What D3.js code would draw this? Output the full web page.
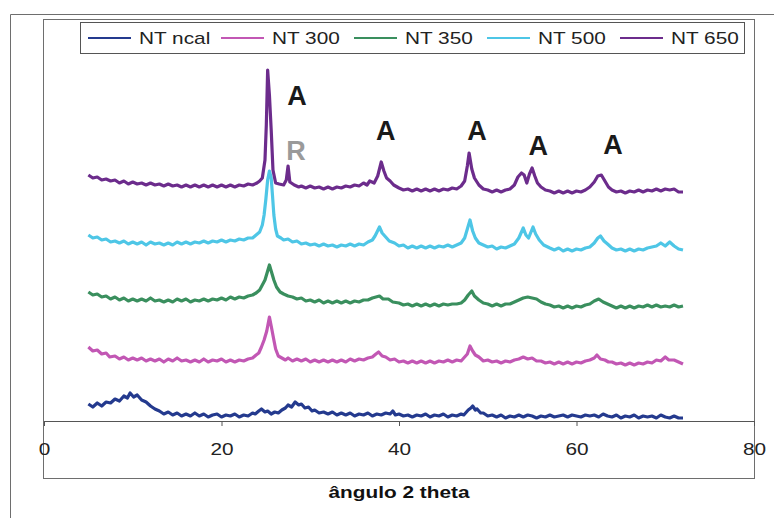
<!DOCTYPE html>
<html><head><meta charset="utf-8">
<script src="https://cdn.jsdelivr.net/npm/d3@7"></script>
<style>body{margin:0;background:#fff}svg{display:block}</style>
</head><body><svg id="c" width="774" height="518"></svg>
<script>
const seriesNames = ["NT ncal", "NT 300", "NT 350", "NT 500", "NT 650"];
const seriesColors = ["#243a8e", "#c257b4", "#3a8f5e", "#4ec6e6", "#6c2c8c"];

// [2θ angle, intensity] pairs
const ncalData = [[5,17],[5.5,14],[6,18],[6.5,15],[7,19],[7.5,18],[8,22],[8.5,20],[9,25],[9.4,23],[9.7,28],[10.1,24],[10.5,26],[11,21],[11.5,19],[12,15],[12.5,12],[13,10],[13.5,7],[14,9],[14.5,6],[15,8],[15.5,5],[16,7],[16.5,5],[17,8],[17.5,5],[18,7],[18.5,4],[19,6],[19.5,7],[20,4],[20.5,6],[21,5],[21.5,7],[22,4],[22.5,6],[23,5],[23.5,8],[23.8,7],[24.2,10],[24.5,12],[24.9,9],[25.2,10],[25.6,7],[26,9],[26.4,8],[26.8,11],[27.2,13],[27.5,16],[27.9,14],[28.3,19],[28.7,16],[29,17],[29.4,13],[29.8,14],[30.2,10],[30.5,11],[31,8],[31.5,9],[32,7],[32.5,9],[33,6],[33.5,8],[34,6],[34.5,8],[35,5],[35.5,7],[36,6],[36.5,8],[37,5],[37.5,7],[38,6],[38.5,8],[39,7],[39.3,10],[39.6,6],[40,7],[40.5,5],[41,6],[41.5,4],[42,6],[42.5,5],[43,7],[43.5,4],[44,6],[44.5,5],[45,7],[45.5,4],[46,6],[46.5,5],[47,7],[47.3,6],[47.8,11],[48.1,13],[48.3,15],[48.6,11],[48.8,12],[49.2,8],[49.5,8],[50,5],[50.5,6],[51,4],[51.5,6],[52,3],[52.5,5],[53,4],[53.5,6],[54,4],[54.5,6],[55,5],[55.5,3],[56,5],[56.5,4],[57,6],[57.5,4],[58,5],[58.5,6],[59,4],[59.5,6],[60,5],[60.5,4],[61,6],[61.5,5],[62,6],[62.5,4],[63,7],[63.5,5],[64,4],[64.5,6],[65,3],[65.5,5],[66,4],[66.5,6],[67,3],[67.5,5],[68,4],[68.5,5],[69,3],[69.5,6],[70,4],[70.5,3],[71,5],[71.5,3],[72,3]];

const nt300Data = [[5,74],[5.5,70],[6,71],[6.5,67],[7,68],[7.4,64],[8,65],[8.5,62],[9,64],[9.5,61],[10,63],[10.5,61],[11,63],[11.5,60],[12,62],[12.5,60],[13,62],[13.5,59],[14,62],[14.5,60],[15,63],[15.5,60],[16,61],[16.5,59],[17,61],[17.5,59],[18,62],[18.5,59],[19,61],[19.5,60],[20,62],[20.5,59],[21,61],[21.5,59],[22,61],[22.5,60],[23,62],[23.5,63],[23.9,66],[24.2,68],[24.5,74],[24.8,81],[25.1,90],[25.4,104],[25.6,95],[25.9,81],[26.1,72],[26.4,65],[26.8,63],[27.2,61],[27.5,63],[28,60],[28.5,62],[29,60],[29.5,62],[30,59],[30.5,61],[31,59],[31.5,61],[32,59],[32.5,61],[33,59],[33.5,61],[34,59],[34.5,62],[35,60],[35.5,62],[36,61],[36.5,63],[37,64],[37.4,67],[37.7,69],[38.1,65],[38.5,64],[39,61],[39.5,62],[40,59],[40.5,60],[41,58],[41.5,60],[42,58],[42.5,60],[43,58],[43.5,60],[44,58],[44.5,60],[45,59],[45.5,61],[46,59],[46.5,61],[47,60],[47.3,63],[47.7,67],[48,75],[48.3,70],[48.6,66],[49,64],[49.5,60],[50,61],[50.5,59],[51,60],[51.5,58],[52,60],[52.5,59],[53,61],[53.5,62],[54,64],[54.5,62],[55,63],[55.5,60],[56,60],[56.5,58],[57,59],[57.5,57],[58,59],[58.5,57],[59,59],[59.5,57],[60,59],[60.5,58],[61,60],[61.5,61],[62,63],[62.3,66],[62.7,62],[63.2,61],[63.6,59],[64,59],[64.5,57],[65,58],[65.5,56],[66,58],[66.5,56],[67,58],[67.5,57],[68,59],[68.5,58],[69,61],[69.5,60],[70,64],[70.4,61],[71,61],[71.5,59],[72,57]];

const nt350Data = [[5,129],[5.5,126],[6,127],[6.5,124],[7,125],[7.5,122],[8,124],[8.5,121],[9,123],[9.5,120],[10,122],[10.5,120],[11,122],[11.5,120],[12,123],[12.5,120],[13,121],[13.5,119],[14,121],[14.5,119],[15,122],[15.5,120],[16,122],[16.5,119],[17,121],[17.5,120],[18,122],[18.5,120],[19,122],[19.5,121],[20,123],[20.5,121],[21,124],[21.5,122],[22,124],[22.5,123],[23,125],[23.5,126],[23.9,128],[24.3,131],[24.6,136],[24.9,141],[25.2,150],[25.4,156],[25.6,150],[25.9,141],[26.2,134],[26.6,129],[27,127],[27.5,125],[28,124],[28.5,122],[29,123],[29.5,120],[30,121],[30.5,119],[31,121],[31.5,118],[32,120],[32.5,118],[33,120],[33.5,118],[34,120],[34.5,118],[35,120],[35.5,119],[36,121],[36.5,121],[37,123],[37.4,124],[37.8,125],[38.2,122],[38.8,122],[39.3,119],[40,118],[40.5,116],[41,117],[41.5,115],[42,117],[42.5,115],[43,117],[43.5,115],[44,117],[44.5,115],[45,117],[45.5,116],[46,117],[46.5,117],[47,118],[47.4,121],[47.8,126],[48.2,130],[48.5,125],[49,121],[49.5,118],[50,117],[50.5,115],[51,117],[51.5,115],[52,117],[52.5,117],[53,119],[53.5,121],[54,123],[54.5,124],[55,123],[55.5,122],[56,119],[56.5,117],[57,116],[57.5,114],[58,115],[58.5,113],[59,115],[59.5,113],[60,115],[60.5,114],[61,116],[61.5,117],[62,120],[62.5,122],[63,119],[63.5,117],[64,115],[64.5,113],[65,115],[65.5,113],[66,115],[66.5,113],[67,115],[67.5,114],[68,116],[68.5,114],[69,116],[69.5,114],[70,115],[70.5,114],[71,116],[71.5,114],[72,115]];

const nt500Data = [[5,186],[5.5,183],[6,184],[6.5,181],[7,182],[7.5,179],[8,180],[8.5,178],[9,180],[9.5,177],[10,179],[10.5,177],[11,179],[11.5,176],[12,179],[12.5,177],[13,178],[13.5,176],[14,178],[14.5,176],[15,179],[15.5,177],[16,179],[16.5,177],[17,179],[17.5,178],[18,180],[18.5,178],[19,180],[19.5,179],[20,181],[20.5,179],[21,181],[21.5,180],[22,182],[22.5,181],[23,183],[23.5,183],[23.9,186],[24.3,189],[24.6,196],[24.8,206],[25,222],[25.2,241],[25.4,250],[25.6,243],[25.75,225],[25.9,206],[26.1,192],[26.3,185],[26.7,183],[27,181],[27.5,182],[28,179],[28.5,180],[29,177],[29.5,178],[30,176],[30.5,177],[31,175],[31.5,177],[32,175],[32.5,176],[33,174],[33.5,176],[34,175],[34.5,177],[35,175],[35.5,177],[36,176],[36.5,179],[37,181],[37.3,185],[37.8,194],[38.1,188],[38.4,185],[38.9,180],[39.5,178],[40,175],[40.5,176],[41,173],[41.5,175],[42,173],[42.5,175],[43,173],[43.5,175],[44,173],[44.5,175],[45,174],[45.5,176],[46,174],[46.5,176],[47,178],[47.4,183],[47.7,192],[48,201],[48.3,190],[48.6,183],[49,178],[49.5,176],[50,174],[50.5,175],[51,172],[51.5,174],[52,173],[52.5,175],[53,177],[53.5,183],[54,193],[54.3,186],[54.6,183],[55.1,194],[55.4,187],[55.8,181],[56.3,176],[57,173],[57.5,171],[58,173],[58.5,170],[59,172],[59.5,170],[60,172],[60.5,171],[61,173],[61.5,174],[62,178],[62.4,183],[62.7,185],[63.1,180],[63.5,177],[64,173],[64.5,171],[65,172],[65.5,170],[66,172],[66.5,170],[67,172],[67.5,171],[68,173],[68.5,174],[69,175],[69.5,178],[70,175],[70.5,179],[71,175],[71.5,172],[72,171]];

const nt650Data = [[5,246],[5.5,243],[6,244],[6.5,241],[7,242],[7.5,240],[8,241],[8.5,238],[9,240],[9.5,237],[10,239],[10.5,237],[11,238],[11.5,236],[12,238],[12.5,236],[13,237],[13.5,235],[14,237],[14.5,235],[15,236],[15.5,234],[16,236],[16.5,234],[17,236],[17.5,234],[18,236],[18.5,234],[19,236],[19.5,234],[20,236],[20.5,234],[21,236],[21.5,234],[22,236],[22.5,235],[23,237],[23.5,236],[24,238],[24.3,240],[24.6,243],[24.9,261],[25.05,296],[25.2,351],[25.4,326],[25.6,291],[25.8,251],[26.1,238],[26.5,237],[27,236],[27.3,241],[27.5,255],[27.7,239],[28.2,236],[28.7,234],[29,235],[29.5,233],[30,235],[30.5,233],[31,234],[31.5,232],[32,234],[32.5,232],[33,234],[33.5,233],[34,235],[34.5,234],[35,236],[35.5,235],[36,238],[36.4,236],[36.7,240],[37.2,238],[37.6,245],[38,259],[38.3,250],[38.6,243],[39,240],[39.4,236],[40,233],[40.5,231],[41,232],[41.5,230],[42,232],[42.5,230],[43,232],[43.5,230],[44,232],[44.5,230],[45,232],[45.5,231],[46,233],[46.5,232],[47,235],[47.4,240],[47.7,255],[47.9,268],[48.2,252],[48.5,243],[49,236],[49.5,232],[50,231],[50.5,229],[51,231],[51.5,229],[52,231],[52.5,232],[53,236],[53.4,244],[53.8,248],[54.1,246],[54.4,238],[54.7,247],[55,253],[55.3,245],[55.6,238],[56,234],[56.5,231],[57,230],[57.5,228],[58,230],[58.5,228],[59,230],[59.5,228],[60,230],[60.5,229],[61,231],[61.5,234],[62,239],[62.4,245],[62.8,246],[63.2,240],[63.6,234],[64,231],[64.5,229],[65,230],[65.5,228],[66,230],[66.5,229],[67,231],[67.5,229],[68,231],[68.5,230],[69,232],[69.5,230],[70,232],[70.5,231],[71,232],[71.5,229],[72,229]];

const seriesData = [ncalData, nt300Data, nt350Data, nt500Data, nt650Data];

const xTicks = [0, 20, 40, 60, 80];
const xTitle = "ângulo 2 theta";

const peakText  = ["A", "R", "A", "A", "A", "A"];
const peakAngle = [28.5, 28.4, 38.5, 48.8, 55.7, 64.1];
const peakLevel = [316, 261, 281, 281, 266, 267];
const peakColor = ["#1a1a1a", "#9a9a9a", "#1a1a1a", "#1a1a1a", "#1a1a1a", "#1a1a1a"];

const svg = d3.select("#c");
const font = "'Liberation Sans', Arial, sans-serif";
const stretch = 1.3;

const x = d3.scaleLinear().domain([0, 80]).range([44, 754]);
const y = d3.scaleLinear().domain([0, 402]).range([421, 19]);

// outer frame
svg.append("path").attr("d", "M10.5,518 V14.5 H774")
  .attr("fill", "none").attr("stroke", "#6e6e6e").attr("stroke-width", 1);
// chart frame
svg.append("rect").attr("x", 43.5).attr("y", 19.5).attr("width", 711).attr("height", 459)
  .attr("fill", "none").attr("stroke", "#6e6e6e").attr("stroke-width", 1);

// series
const line = d3.line().x(d => x(d[0])).y(d => y(d[1]));
seriesNames.forEach((name, i) => {
  svg.append("path").datum(seriesData[i]).attr("d", line)
    .attr("fill", "none").attr("stroke", seriesColors[i])
    .attr("stroke-width", 3.2).attr("stroke-linejoin", "round");
});

// x axis
const ax = svg.append("g").attr("transform", "translate(0,421)")
  .call(d3.axisBottom(x).tickValues(xTicks).tickSize(5).tickSizeOuter(0));
ax.select(".domain").attr("stroke", "#555");
ax.selectAll(".tick line").attr("stroke", "#555");
ax.selectAll(".tick text").attr("y", 34).attr("dy", 0)
  .attr("transform", `scale(${stretch},1)`)
  .attr("font-family", font).attr("font-size", 16).attr("fill", "#222");

// axis title
svg.append("text").attr("transform", `translate(${(x(0)+x(80))/2},498) scale(${stretch},1)`)
  .attr("text-anchor", "middle").attr("font-family", font).attr("font-weight", "bold")
  .attr("font-size", 16).attr("fill", "#111").text(xTitle);

// peak labels
peakText.forEach((t, i) => {
  svg.append("text").attr("x", x(peakAngle[i])).attr("y", y(peakLevel[i]))
    .attr("text-anchor", "middle").attr("font-family", font).attr("font-weight", "bold")
    .attr("font-size", 27).attr("fill", peakColor[i]).text(t);
});

// legend
svg.append("rect").attr("x", 80.5).attr("y", 22.5).attr("width", 664).attr("height", 31)
  .attr("fill", "#fff").attr("stroke", "#555").attr("stroke-width", 1);
seriesNames.forEach((name, i) => {
  const lx = 88 + i * 133;
  svg.append("line").attr("x1", lx).attr("x2", lx + 43).attr("y1", 38).attr("y2", 38)
    .attr("stroke", seriesColors[i]).attr("stroke-width", 2);
  svg.append("text").attr("transform", `translate(${lx + 51},44) scale(${stretch},1)`)
    .attr("font-family", font).attr("font-size", 16).attr("fill", "#222").text(name);
});
</script></body></html>
